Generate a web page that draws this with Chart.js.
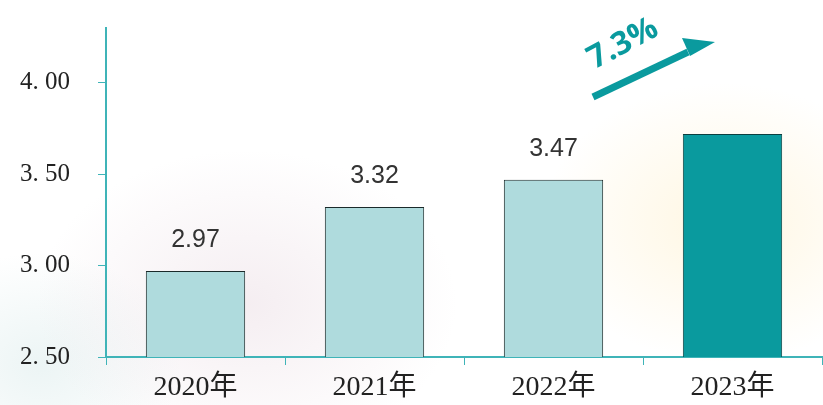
<!DOCTYPE html>
<html>
<head>
<meta charset="utf-8">
<script src="https://cdn.jsdelivr.net/npm/chart.js@4"></script>
<style>
  html, body { margin: 0; padding: 0; }
  body {
    width: 823px; height: 405px; overflow: hidden;
    background:
      radial-gradient(ellipse 260px 200px at 88% 55%, rgba(255,236,190,.45), rgba(255,255,255,0) 70%),
      radial-gradient(ellipse 300px 220px at 30% 75%, rgba(225,205,215,.35), rgba(255,255,255,0) 70%),
      radial-gradient(ellipse 200px 160px at 5% 90%, rgba(200,225,225,.35), rgba(255,255,255,0) 70%),
      #fff;
  }
  #wrap { position: relative; width: 823px; height: 405px; }
</style>
</head>
<body>
<div id="wrap"><canvas id="chart" width="823" height="405"></canvas></div>
<script>
// données
const years  = ['2020年', '2021年', '2022年', '2023年'];
const values = [2.97, 3.32, 3.47, 3.72];
const valueLabels = ['2.97', '3.32', '3.47', ''];
const growthLabel = '7.3%';

const TEAL = '#0a9a9e';
const AXIS = '#3fb4b8';

// étiquettes au-dessus des barres + flèche de croissance
const decor = {
  id: 'decor',
  afterDatasetsDraw(chart) {
    const { ctx } = chart;
    const meta = chart.getDatasetMeta(0);
    ctx.save();
    ctx.font = '25px "Liberation Sans", Arial, sans-serif';
    ctx.fillStyle = '#333';
    ctx.textAlign = 'center';
    ctx.textBaseline = 'alphabetic';
    meta.data.forEach((bar, i) => {
      if (valueLabels[i]) ctx.fillText(valueLabels[i], bar.x, bar.y - 24);
    });

    // flèche
    ctx.fillStyle = TEAL;
    ctx.strokeStyle = TEAL;
    ctx.lineWidth = 7;
    ctx.beginPath();
    ctx.moveTo(593, 97);
    ctx.lineTo(688, 52);
    ctx.stroke();
    ctx.beginPath();
    ctx.moveTo(682, 38);
    ctx.lineTo(715, 42);
    ctx.lineTo(690, 56);
    ctx.closePath();
    ctx.fill();

    ctx.translate(623, 44);
    ctx.rotate(-28 * Math.PI / 180);
    ctx.font = 'bold 32px "Open Sans", sans-serif';
    ctx.textBaseline = 'middle';
    ctx.fillText(growthLabel, 0, 0);
    ctx.restore();
  }
};

new Chart(document.getElementById('chart'), {
  type: 'bar',
  data: {
    labels: years,
    datasets: [{
      data: values,
      backgroundColor: values.map((v, i) => i === values.length - 1 ? TEAL : '#afdbdd'),
      borderColor: values.map((v, i) => i === values.length - 1 ? '#0b3f40' : '#1a2a2a'),
      borderWidth: 1,
      borderSkipped: false,
      categoryPercentage: 0.555,
      barPercentage: 1,
    }],
  },
  options: {
    responsive: false, animation: false,
    layout: { padding: { top: 28, right: 1, left: 0, bottom: 0 } },
    plugins: { legend: { display: false }, tooltip: { enabled: false } },
    scales: {
      x: {
        grid: { display: true, drawOnChartArea: false, drawTicks: true, tickLength: 8, color: AXIS, offset: true },
        border: { color: AXIS, width: 2 },
        ticks: {
          color: '#222', padding: 6,
          font: { family: '"Liberation Serif", "Noto Sans CJK SC", serif', size: 28 },
        },
        afterFit: s => { s.height = 48; s.paddingLeft = 0; s.paddingRight = 0; },
      },
      y: {
        min: 2.5, max: 4.3,
        grid: { drawOnChartArea: false, tickLength: 8, color: AXIS },
        border: { color: AXIS, width: 2 },
        ticks: {
          stepSize: 0.5, includeBounds: false, padding: 28,
          color: '#222',
          font: { family: '"Liberation Serif", serif', size: 25 },
          callback: v => v.toFixed(2).replace('.', '. '),
        },
        afterFit: s => { s.width = 106; s.paddingTop = 0; s.paddingBottom = 0; },
      },
    },
  },
  plugins: [decor],
});
</script>
</body>
</html>
